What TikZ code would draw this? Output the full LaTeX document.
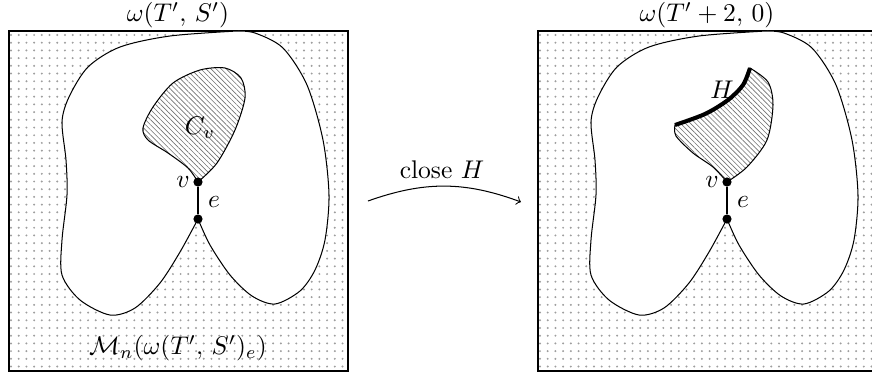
\documentclass[tikz,border=0pt]{standalone}
\usetikzlibrary{patterns,patterns.meta}
\begin{document}
\begin{tikzpicture}[x=0.3913pt,y=-0.3913pt,
  frame/.style={line width=0.6pt},
  blobline/.style={line width=0.4pt},
  vtx/.style={circle,fill=black,inner sep=0pt,minimum size=3.6pt},
  dotcol/.style={fill=black!38},
  hatch/.style={pattern={Lines[angle=-45,distance=1.4pt,line width=0.25pt]},pattern color=black!55},
  thickH/.style={line width=1.6pt}]
\useasboundingbox (0,0) rectangle (872,379);
\foreach \dx in {0,529}{
  \begin{scope}[shift={(\dx,0)}]
    \foreach \i in {0,...,43}{
      \foreach \j in {0,...,43}{
        \fill[dotcol] (11+\i*7.71,35+\j*7.71) circle (0.43pt);
      }
    }
    \draw[frame] (9,31) rectangle (348,371);
    \filldraw[fill=white,blobline]
      plot[smooth] coordinates {(198,219) (210,245) (230,275) (252,296) (275,304) (300,291) (315,270) (325,240) (329,195) (323,140) (307,85) (283,48) (255,33) (237,31)}
      -- plot[smooth] coordinates {(237,31) (170,36) (120,47) (88,67) (69,97) (62,122) (66,160) (67,195) (62,240) (62,275) (80,300) (110,315) (135,308) (160,283) (180,252) (198,219)}
      -- cycle;
  \end{scope}
}
% left hatched region C_v
\draw[blobline,hatch] plot[smooth] coordinates {(198,182) (217,163) (235,130) (245,98) (241,78) (225,68) (200,70) (173,83) (153,107) (143,128) (148,140) (168,153) (188,168) (198,182)} -- cycle;
% right hatched region with H
\draw[blobline,hatch]
  plot[smooth] coordinates {(727,182) (747,167) (767,140) (773,105) (768,82) (750,68)}
  -- plot[smooth] coordinates {(750,68) (743,85) (728,100) (705,114) (675,125)}
  -- plot[smooth] coordinates {(675,125) (676,136) (693,153) (713,167) (727,182)}
  -- cycle;
\draw[thickH] plot[smooth] coordinates {(750,68) (743,85) (728,100) (705,114) (675,125)};
% vertices and edges
\node[vtx] (v1) at (198,182) {};
\node[vtx] (u1) at (198,219) {};
\draw[blobline] (v1) -- (u1);
\node[vtx] (v2) at (727,182) {};
\node[vtx] (u2) at (727,219) {};
\draw[blobline] (v2) -- (u2);
% labels
\node (t1) at (178,15.5) {$\omega(T',\,S')$};
\node (t2) at (707,15.5) {$\omega(T'+2,\,0)$};
\node (m1) at (178,348) {$\mathcal{M}_n(\omega(T',\,S')_e)$};
\node (cv) at (200,128) {$C_v$};
\node (lv1) at (183,182) {$v$};
\node (le1) at (214,202) {$e$};
\node (lv2) at (712,182) {$v$};
\node (le2) at (743,202) {$e$};
\node (lh) at (722,90) {$H$};
% arrow
\coordinate (a1) at (368,201);
\coordinate (a2) at (521,202);
\draw[->,blobline] (a1) to[bend left=20] (a2);
\node (cl) at (442,170) {close $H$};
\end{tikzpicture}
\end{document}
